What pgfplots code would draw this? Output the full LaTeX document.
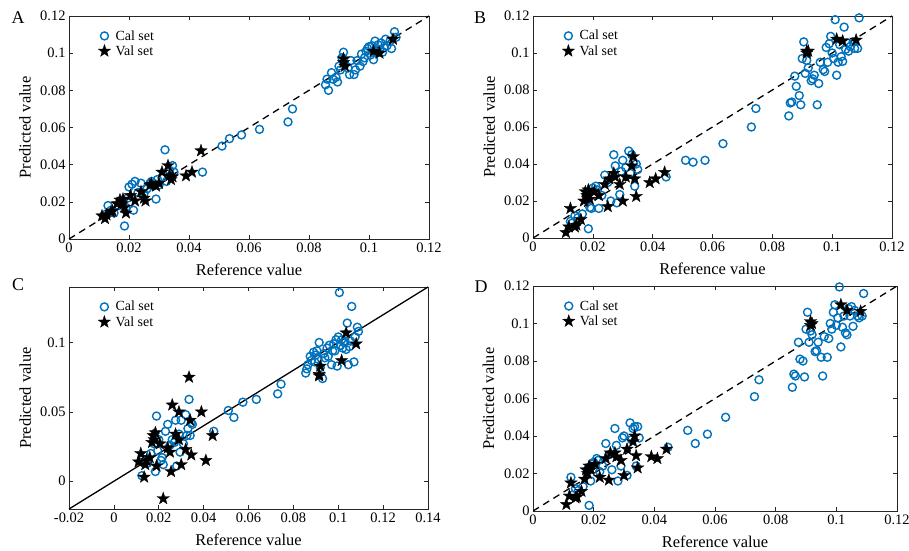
\documentclass[border=0pt]{standalone}
\usepackage{fontspec}
\setmainfont{Liberation Serif}
\usepackage{pgfplots}
\pgfplotsset{compat=1.18}
\definecolor{mblue}{rgb}{0,0.447,0.741}
\newcommand{\lf}{\fontsize{14}{16}\selectfont}
\pgfdeclareplotmark{fstar}{%
  \pgfpathmoveto{\pgfpointpolar{90}{\pgfplotmarksize}}%
  \pgfpathlineto{\pgfpointpolar{126}{0.4\pgfplotmarksize}}%
  \pgfpathlineto{\pgfpointpolar{162}{\pgfplotmarksize}}%
  \pgfpathlineto{\pgfpointpolar{198}{0.4\pgfplotmarksize}}%
  \pgfpathlineto{\pgfpointpolar{234}{\pgfplotmarksize}}%
  \pgfpathlineto{\pgfpointpolar{270}{0.4\pgfplotmarksize}}%
  \pgfpathlineto{\pgfpointpolar{306}{\pgfplotmarksize}}%
  \pgfpathlineto{\pgfpointpolar{342}{0.4\pgfplotmarksize}}%
  \pgfpathlineto{\pgfpointpolar{18}{\pgfplotmarksize}}%
  \pgfpathlineto{\pgfpointpolar{54}{0.4\pgfplotmarksize}}%
  \pgfpathclose\pgfusepathqfillstroke}
\pgfplotsset{
  panel/.style={
    scale only axis, anchor=south west,
    scaled ticks=false,
    tick label style={font=\fontsize{14.5}{16}\selectfont},
    label style={font=\fontsize{16.5}{18}\selectfont},
    xlabel={Reference value}, ylabel={Predicted value},
    xlabel style={at={(axis description cs:0.5,-0.139)}, anchor=center},
    ylabel style={at={(axis description cs:-0.122,0.5)}, anchor=center, rotate=0},
    axis line style={line width=0.8bp, color=black!85},
    tick style={line width=0.6bp, color=black!85},
    major tick length=4bp,
    legend style={draw=none, fill=none, font=\lf,
      at={(axis description cs:0.078,0.95)}, anchor=north west,
      row sep=0bp, column sep=3bp, inner sep=1bp},
    legend cell align=left,
  },
  std/.style={
    xmin=0,xmax=0.12,ymin=0,ymax=0.12,
    xtick={0,0.02,0.04,0.06,0.08,0.1,0.12},
    ytick={0,0.02,0.04,0.06,0.08,0.1,0.12},
    xticklabels={0,0.02,0.04,0.06,0.08,0.1,0.12},
    yticklabels={0,0.02,0.04,0.06,0.08,0.1,0.12},
  },
  diag/.style={black, dash pattern=on 7bp off 5bp, line width=1.3bp, forget plot},
  cal/.style={only marks, mark=o, mark size=4bp, mblue, line width=1.4bp},
  val/.style={only marks, mark=fstar, mark size=6.5bp, black, fill=black, line width=0.3bp},
}
\begin{document}
\begin{tikzpicture}[x=1bp,y=1bp]
\path[use as bounding box] (0,0) rectangle (909,-551);
\coordinate (pA) at (69,-239);
\coordinate (pB) at (533,-238);
\coordinate (pC) at (69,-509);
\coordinate (pD) at (533,-511);
% ---------------- A ----------------
\begin{axis}[panel, std, at={(pA)}, width=360bp, height=223bp]
\addplot[diag] coordinates {(0,0) (0.12,0.12)};
\addplot[cal] coordinates {
(0.0125,0.0135)(0.013,0.018)(0.014,0.0155)(0.015,0.014)(0.0165,0.018)(0.018,0.020)(0.0185,0.007)(0.019,0.017)(0.0195,0.022)(0.020,0.028)(0.021,0.0295)(0.0215,0.0155)(0.022,0.031)(0.023,0.025)(0.024,0.030)(0.025,0.0245)(0.026,0.027)(0.027,0.030)(0.0275,0.031)(0.028,0.0285)(0.029,0.0215)(0.0295,0.032)(0.030,0.029)(0.031,0.033)(0.032,0.048)(0.0325,0.031)(0.033,0.035)(0.0335,0.037)(0.034,0.034)(0.0345,0.0395)(0.035,0.036)
(0.0445,0.036)(0.051,0.050)(0.0535,0.054)(0.0575,0.056)(0.0635,0.059)(0.073,0.063)(0.0745,0.070)
(0.0855,0.083)(0.086,0.086)(0.0865,0.080)(0.0875,0.0895)(0.088,0.086)(0.089,0.087)(0.0895,0.0845)(0.090,0.093)(0.0905,0.091)(0.091,0.0975)(0.0915,0.1005)(0.092,0.094)(0.093,0.092)(0.0935,0.0885)(0.094,0.096)(0.095,0.0885)(0.0955,0.091)(0.096,0.096)(0.097,0.093)(0.0975,0.0995)(0.098,0.0955)(0.0985,0.0975)(0.099,0.101)(0.0995,0.1025)(0.100,0.1035)(0.1005,0.099)(0.101,0.104)(0.1015,0.0965)(0.102,0.1065)(0.1025,0.100)(0.103,0.1045)(0.1035,0.102)(0.104,0.1055)(0.1045,0.1005)(0.105,0.103)(0.1055,0.1075)(0.106,0.104)(0.107,0.1065)(0.1075,0.1025)(0.1085,0.1115)(0.109,0.1085)
};
\addlegendentry{\lf Cal set}
\addplot[val] coordinates {
(0.011,0.0125)(0.012,0.011)(0.0125,0.013)(0.014,0.0145)(0.0145,0.015)(0.016,0.019)(0.017,0.021)(0.0175,0.019)(0.018,0.0215)(0.0185,0.017)(0.019,0.014)(0.0205,0.0235)(0.022,0.0205)(0.024,0.0255)(0.025,0.022)(0.0255,0.0205)(0.027,0.029)(0.0275,0.0295)(0.029,0.0285)(0.030,0.030)(0.031,0.036)(0.033,0.0395)(0.0335,0.034)(0.034,0.032)(0.0345,0.0335)(0.039,0.034)(0.041,0.036)(0.044,0.0475)
(0.0915,0.097)(0.0915,0.095)(0.092,0.093)(0.1015,0.101)(0.1035,0.100)(0.108,0.1075)
};
\addlegendentry{\lf Val set}
\end{axis}
% ---------------- B ----------------
\begin{axis}[panel, std, at={(pB)}, width=359bp, height=222bp]
\addplot[diag] coordinates {(0,0) (0.12,0.12)};
\addplot[cal] coordinates {
(0.0125,0.009)(0.013,0.008)(0.014,0.012)(0.015,0.011)(0.0165,0.013)(0.018,0.022)(0.0185,0.005)(0.019,0.0165)(0.0195,0.016)(0.020,0.027)(0.021,0.028)(0.0215,0.026)(0.022,0.016)(0.023,0.023)(0.024,0.034)(0.025,0.030)(0.026,0.020)(0.027,0.045)(0.0275,0.039)(0.028,0.019)(0.029,0.0235)(0.0295,0.036)(0.030,0.042)(0.031,0.038)(0.032,0.047)(0.0325,0.035)(0.033,0.045)(0.0335,0.041)(0.034,0.028)(0.0345,0.040)(0.035,0.037)
(0.0445,0.033)(0.051,0.042)(0.0535,0.041)(0.0575,0.042)(0.0635,0.051)(0.073,0.060)(0.0745,0.070)
(0.0855,0.066)(0.086,0.073)(0.0865,0.0735)(0.0875,0.0875)(0.088,0.082)(0.089,0.077)(0.0895,0.072)(0.090,0.097)(0.0905,0.106)(0.091,0.089)(0.0915,0.096)(0.092,0.092)(0.093,0.085)(0.0935,0.086)(0.094,0.088)(0.095,0.072)(0.0955,0.0835)(0.096,0.095)(0.097,0.091)(0.0975,0.090)(0.098,0.103)(0.0985,0.095)(0.099,0.105)(0.0995,0.109)(0.100,0.100)(0.1005,0.097)(0.101,0.118)(0.1015,0.088)(0.102,0.095)(0.1025,0.1045)(0.103,0.098)(0.1035,0.0955)(0.104,0.114)(0.1045,0.102)(0.105,0.1055)(0.1055,0.101)(0.106,0.1035)(0.107,0.106)(0.1075,0.1025)(0.1085,0.1025)(0.109,0.119)
};
\addlegendentry{\lf Cal set}
\addplot[val] coordinates {
(0.011,0.003)(0.012,0.006)(0.0125,0.016)(0.014,0.006)(0.0145,0.007)(0.016,0.010)(0.017,0.020)(0.0175,0.025)(0.018,0.023)(0.0185,0.026)(0.019,0.021)(0.0205,0.025)(0.022,0.023)(0.024,0.029)(0.025,0.017)(0.0255,0.032)(0.027,0.035)(0.0275,0.033)(0.029,0.029)(0.030,0.020)(0.031,0.033)(0.033,0.039)(0.0335,0.044)(0.034,0.032)(0.0345,0.0225)(0.039,0.030)(0.041,0.032)(0.044,0.0355)
(0.0915,0.101)(0.0915,0.100)(0.092,0.101)(0.1015,0.1075)(0.1035,0.1065)(0.108,0.107)
};
\addlegendentry{\lf Val set}
\end{axis}
% ---------------- C ----------------
\begin{axis}[panel, at={(pC)}, width=359bp, height=222bp,
  xmin=-0.02,xmax=0.14,ymin=-0.02,ymax=0.14,
  xtick={-0.02,0,0.02,0.04,0.06,0.08,0.1,0.12,0.14},
  xticklabels={-0.02,0,0.02,0.04,0.06,0.08,0.1,0.12,0.14},
  ytick={0,0.05,0.1}, yticklabels={0,0.05,0.1}]
\addplot[black, line width=1.3bp, forget plot] coordinates {(-0.02,-0.02) (0.14,0.14)};
\addplot[cal] coordinates {
(0.0125,0.004)(0.013,0.016)(0.014,0.015)(0.015,0.013)(0.0165,0.020)(0.018,0.027)(0.0185,0.007)(0.019,0.047)(0.0195,0.022)(0.020,0.030)(0.021,0.015)(0.0215,0.017)(0.022,0.012)(0.023,0.036)(0.024,0.041)(0.025,0.026)(0.026,0.030)(0.027,0.028)(0.0275,0.044)(0.028,0.011)(0.029,0.034)(0.0295,0.021)(0.030,0.044)(0.031,0.027)(0.032,0.048)(0.0325,0.033)(0.033,0.038)(0.0335,0.059)(0.034,0.033)(0.0345,0.042)(0.035,0.041)
(0.0445,0.036)(0.051,0.051)(0.0535,0.046)(0.0575,0.057)(0.0635,0.059)(0.073,0.063)(0.0745,0.070)
(0.0855,0.078)(0.086,0.081)(0.0865,0.084)(0.0875,0.090)(0.088,0.087)(0.089,0.093)(0.0895,0.086)(0.090,0.091)(0.0905,0.094)(0.091,0.088)(0.0915,0.100)(0.092,0.082)(0.093,0.074)(0.0935,0.092)(0.094,0.089)(0.095,0.096)(0.0955,0.090)(0.096,0.098)(0.097,0.084)(0.0975,0.094)(0.098,0.099)(0.0985,0.094)(0.099,0.102)(0.0995,0.083)(0.100,0.104)(0.1005,0.136)(0.101,0.098)(0.1015,0.102)(0.102,0.096)(0.1025,0.100)(0.103,0.101)(0.1035,0.095)(0.104,0.114)(0.1045,0.084)(0.105,0.097)(0.1055,0.101)(0.106,0.126)(0.107,0.086)(0.1075,0.104)(0.1085,0.111)(0.109,0.108)
};
\addlegendentry{\lf Cal set}
\addplot[val] coordinates {
(0.011,0.014)(0.012,0.020)(0.0135,0.003)(0.014,0.012)(0.0145,0.015)(0.016,0.017)(0.017,0.028)(0.0175,0.033)(0.018,0.030)(0.0185,0.035)(0.019,0.011)(0.0205,0.027)(0.022,-0.0125)(0.024,0.024)(0.025,0.021)(0.0255,0.007)(0.026,0.055)(0.0275,0.034)(0.029,0.030)(0.029,0.050)(0.030,0.012)(0.032,0.023)(0.0335,0.075)(0.034,0.044)(0.0345,0.019)(0.039,0.050)(0.041,0.015)(0.044,0.033)
(0.0915,0.077)(0.0915,0.076)(0.092,0.083)(0.1015,0.087)(0.1035,0.107)(0.108,0.099)
};
\addlegendentry{\lf Val set}
\end{axis}
% ---------------- D ----------------
\begin{axis}[panel, std, at={(pD)}, width=364bp, height=225bp]
\addplot[diag] coordinates {(0,0) (0.12,0.12)};
\addplot[cal] coordinates {
(0.0125,0.018)(0.013,0.0085)(0.014,0.012)(0.015,0.011)(0.0165,0.013)(0.018,0.022)(0.0185,0.003)(0.019,0.016)(0.0195,0.025)(0.020,0.026)(0.021,0.028)(0.0215,0.027)(0.022,0.021)(0.023,0.024)(0.024,0.036)(0.025,0.030)(0.026,0.022)(0.027,0.044)(0.0275,0.035)(0.028,0.016)(0.029,0.024)(0.0295,0.039)(0.030,0.040)(0.031,0.019)(0.032,0.047)(0.0325,0.038)(0.033,0.044)(0.0335,0.045)(0.034,0.024)(0.0345,0.045)(0.035,0.039)
(0.0445,0.034)(0.051,0.043)(0.0535,0.036)(0.0575,0.041)(0.0635,0.050)(0.073,0.061)(0.0745,0.070)
(0.0855,0.066)(0.086,0.073)(0.0865,0.072)(0.0875,0.090)(0.088,0.081)(0.089,0.080)(0.0895,0.0715)(0.090,0.097)(0.0905,0.106)(0.091,0.090)(0.0915,0.096)(0.092,0.094)(0.093,0.085)(0.0935,0.0855)(0.094,0.090)(0.095,0.082)(0.0955,0.072)(0.096,0.093)(0.097,0.082)(0.0975,0.092)(0.098,0.100)(0.0985,0.097)(0.099,0.106)(0.0995,0.110)(0.100,0.099)(0.1005,0.103)(0.101,0.1195)(0.1015,0.0875)(0.102,0.098)(0.1025,0.104)(0.103,0.095)(0.1035,0.094)(0.104,0.108)(0.1045,0.104)(0.105,0.109)(0.1055,0.0985)(0.106,0.107)(0.107,0.104)(0.1075,0.103)(0.1085,0.104)(0.109,0.116)
};
\addlegendentry{\lf Cal set}
\addplot[val] coordinates {
(0.011,0.0035)(0.012,0.008)(0.0125,0.015)(0.014,0.007)(0.0145,0.0075)(0.016,0.0105)(0.017,0.017)(0.0175,0.022)(0.018,0.020)(0.0185,0.024)(0.019,0.022)(0.0205,0.025)(0.022,0.018)(0.024,0.028)(0.025,0.0165)(0.0255,0.031)(0.027,0.031)(0.0275,0.029)(0.029,0.027)(0.030,0.019)(0.031,0.033)(0.033,0.037)(0.0335,0.040)(0.034,0.0295)(0.0345,0.023)(0.039,0.029)(0.041,0.028)(0.044,0.033)
(0.0915,0.101)(0.0915,0.099)(0.092,0.100)(0.1015,0.110)(0.1035,0.107)(0.108,0.1065)
};
\addlegendentry{\lf Val set}
\end{axis}
% panel letters
\node[font=\fontsize{18}{20}\selectfont] at (18,-18) {A};
\node[font=\fontsize{18}{20}\selectfont] at (480,-18) {B};
\node[font=\fontsize{18}{20}\selectfont] at (18,-285) {C};
\node[font=\fontsize{18}{20}\selectfont] at (481,-287) {D};
\end{tikzpicture}
\end{document}
